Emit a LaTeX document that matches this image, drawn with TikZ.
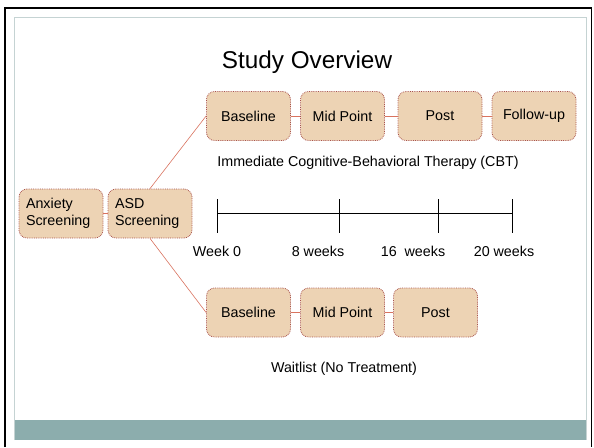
\documentclass[tikz,border=0pt]{standalone}
\usepackage{fontspec}
\setmainfont{Liberation Sans}
\definecolor{boxfill}{HTML}{EDD3B4}
\definecolor{boxline}{HTML}{A8524C}
\definecolor{linkred}{HTML}{D9735F}
\definecolor{bandteal}{HTML}{8CADAD}
\definecolor{framegrey}{HTML}{C5D3D3}

\begin{document}
\begin{tikzpicture}[x=1pt, y=-1pt,
  phase/.style={draw=boxline, densely dotted, line width=0.8pt, fill=boxfill, rounded corners=8pt,
    minimum width=84pt, minimum height=49pt, inner sep=0pt,
    font=\fontsize{14.3}{17}\selectfont},
  screen/.style={phase, text width=70pt, inner xsep=7pt, align=left},
  link/.style={draw=linkred, line width=0.6pt},
  plain/.style={font=\fontsize{14.3}{17}\selectfont, inner sep=0pt}]

\useasboundingbox (0,0) rectangle (594,447);

% Slide frame and bottom band
\fill[bandteal] (14,420) rectangle (586.5,440);
\draw[framegrey, line width=1pt] (14,440) -- (14,17) -- (586.5,17) -- (586.5,440);
\draw[black, line width=2.5pt] (5,447) -- (5,8) -- (591.5,8);
\draw[black, line width=1.5pt] (591.5,8) -- (591.5,447);

\node[plain, font=\fontsize{24.3}{28}\selectfont] (title) at (307,62) {Study Overview};

% Screening boxes
\node[screen] (anx) at (61,213.5) {Anxiety\\Screening};
\node[screen] (asd) at (150,213.5) {ASD\\Screening};

% Define phase boxes of both arms in a loop
\foreach \name/\xpos/\ypos/\label in {tb/248.5/116/Baseline, tm/342.5/116/Mid Point,
    tp/440/116/Post, tf/534/116/Follow-up,
    wb/248.5/312.5/Baseline, wm/342.5/312.5/Mid Point, wp/435.5/312.5/Post} {
    \node[phase] (\name) at (\xpos,\ypos) {\label};
}

\node[plain] (cbt) at (368,163) {Immediate Cognitive-Behavioral Therapy (CBT)};
\node[plain] (wait) at (344,369) {Waitlist (No Treatment)};

% Define links in a loop
\foreach \source/\dest in {anx/asd, tb/tm, tm/tp, tp/tf, wb/wm, wm/wp, asd.north/tb.west, asd.south/wb.west} {
    \draw[link] (\source) -- (\dest);
}

% Timeline with ticks and week labels
\foreach \name/\xpos/\lx/\label in {w0/217/217/Week 0, w8/339/318/8 weeks,
    w16/438/413/{16\ \ weeks}, w20/512/504/20 weeks} {
    \coordinate (\name) at (\xpos,213);
    \draw[line width=1pt] (\xpos,199) -- (\xpos,233);
    \node[plain] (\name lab) at (\lx,251) {\label};
}
\draw[line width=1pt] (w0) -- (w20);

\end{tikzpicture}
\end{document}
